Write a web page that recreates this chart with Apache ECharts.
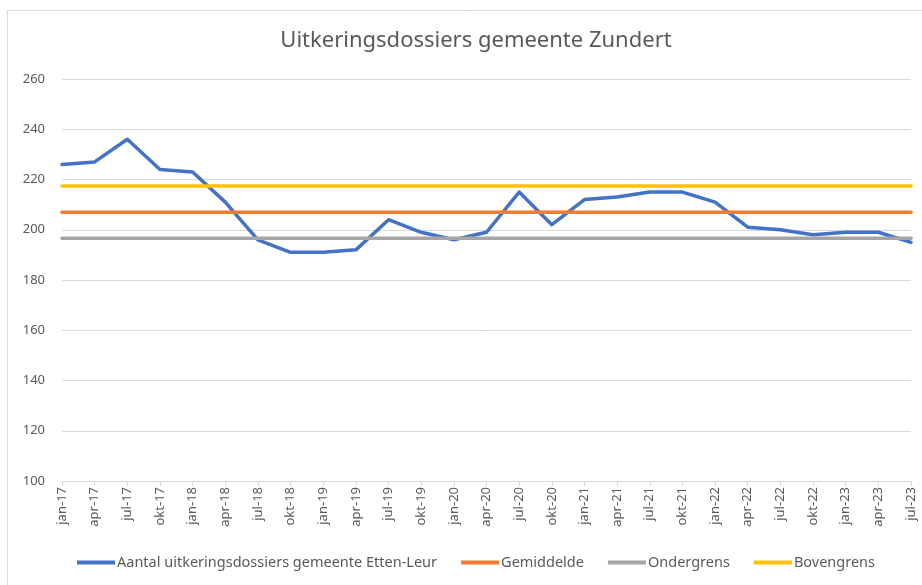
<!DOCTYPE html>
<html>
<head>
<meta charset="utf-8">
<script src="https://cdn.jsdelivr.net/npm/echarts@6/dist/echarts.min.js"></script>
<style>
html,body{margin:0;padding:0;background:#fff;}
#chart{width:922px;height:585px;}
</style>
</head>
<body>
<div id="chart"></div>
<script>
var categories = ['jan-17','apr-17','jul-17','okt-17','jan-18','apr-18','jul-18','okt-18','jan-19','apr-19','jul-19','okt-19','jan-20','apr-20','jul-20','okt-20','jan-21','apr-21','jul-21','okt-21','jan-22','apr-22','jul-22','okt-22','jan-23','apr-23','jul-23'];
var aantal = [226,227,236,224,223,211,196,191,191,192,204,199,196,199,215,202,212,213,215,215,211,201,200,198,199,199,195];
var gemiddelde = [207,207,207,207,207,207,207,207,207,207,207,207,207,207,207,207,207,207,207,207,207,207,207,207,207,207,207];
var ondergrens = [196.6,196.6,196.6,196.6,196.6,196.6,196.6,196.6,196.6,196.6,196.6,196.6,196.6,196.6,196.6,196.6,196.6,196.6,196.6,196.6,196.6,196.6,196.6,196.6,196.6,196.6,196.6];
var bovengrens = [217.4,217.4,217.4,217.4,217.4,217.4,217.4,217.4,217.4,217.4,217.4,217.4,217.4,217.4,217.4,217.4,217.4,217.4,217.4,217.4,217.4,217.4,217.4,217.4,217.4,217.4,217.4];
var yTicks = [100,120,140,160,180,200,220,240,260];

var chart = echarts.init(document.getElementById('chart'), null, {renderer:'canvas'});
var font = 'Noto Sans';
function line(name, data, color, z){
  return {name:name, type:'line', data:data, symbol:'none', z:z,
    lineStyle:{color:color, width:3.5, cap:'round', join:'round'}, itemStyle:{color:color}};
}
chart.setOption({
  animation:false,
  backgroundColor:'#fff',
  graphic:[{type:'rect', shape:{x:7.5,y:10.5,width:930,height:600}, style:{fill:null, stroke:'#d9d9d9', lineWidth:1}, silent:true, z:-10}],
  title:{text:'Uitkeringsdossiers gemeente Zundert', left:471, textAlign:'center', top:25,
    textStyle:{fontFamily:font, fontSize:22, fontWeight:'normal', color:'#595959'}},
  grid:{left:62, right:11, top:79, bottom:104},
  legend:{bottom:10, left:72, itemWidth:38, itemHeight:4, itemGap:24, icon:'rect',
    textStyle:{fontFamily:font, fontSize:14.5, color:'#595959', padding:[0,0,0,-3]},
    data:['Aantal uitkeringsdossiers gemeente Etten-Leur','Gemiddelde','Ondergrens','Bovengrens']},
  xAxis:{type:'category', data:categories, boundaryGap:false,
    axisLine:{lineStyle:{color:'#d9d9d9', width:1}},
    axisTick:{show:true, alignWithLabel:true, length:5, lineStyle:{color:'#d9d9d9'}},
    axisLabel:{rotate:90, interval:0, margin:6, fontFamily:font, fontSize:13, color:'#595959'}},
  yAxis:{type:'value', min:yTicks[0], max:yTicks[yTicks.length-1], interval:20,
    axisLine:{show:false}, axisTick:{show:false},
    splitLine:{lineStyle:{color:'#d9d9d9', width:1}},
    axisLabel:{margin:17, fontFamily:font, fontSize:13, color:'#595959'}},
  series:[
    line('Aantal uitkeringsdossiers gemeente Etten-Leur', aantal, '#4472C4', 2),
    line('Gemiddelde', gemiddelde, '#ED7D31', 3),
    line('Ondergrens', ondergrens, '#A5A5A5', 4),
    line('Bovengrens', bovengrens, '#FFC000', 5)
  ]
});
</script>
</body>
</html>
